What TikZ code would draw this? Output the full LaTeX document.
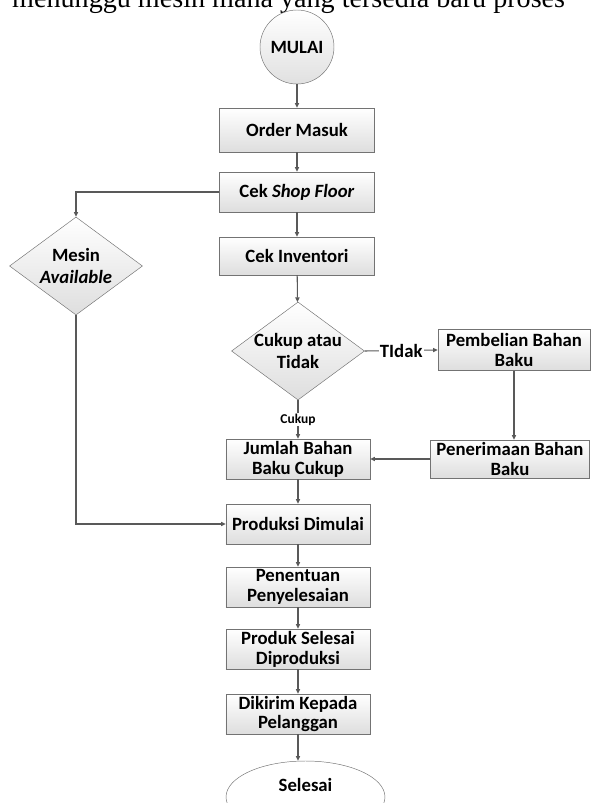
\documentclass[tikz,border=0pt]{standalone}
\usepackage{fontspec}
\setmainfont{Carlito}
\newfontfamily\bodyserif{Liberation Serif}
\usetikzlibrary{arrows.meta,shapes.geometric}

\tikzset{
  box/.style={draw=black!55, top color=white, bottom color=black!13, align=center,
    font=\bfseries\fontsize{16}{17}\selectfont, inner sep=1pt,
    minimum width=4.32cm, minimum height=1.2cm},
  decide/.style={diamond, draw=black!55, top color=white, bottom color=black!13, align=center,
    font=\bfseries\fontsize{16}{19}\selectfont, inner sep=0pt,
    minimum width=3.99cm, minimum height=2.94cm},
  flow/.style={draw=black!65, line width=0.9pt, -{Triangle[length=4pt,width=3.5pt]}},
  tag/.style={fill=white, inner sep=1pt, font=\bfseries\fontsize{16}{17}\selectfont}
}

\begin{document}
\begin{tikzpicture}[x=0.03cm, y=-0.03cm]
\useasboundingbox (0,0) rectangle (591,803);
\clip (0,0) rectangle (591,803);

% text of the page above the chart
\node[anchor=base west, inner sep=0, font=\bodyserif\fontsize{24}{24}\selectfont] (intro) at (12,7) {menunggu mesin mana yang tersedia baru proses};

% main column
\node[circle, draw=black!55, top color=white, bottom color=black!12, minimum size=2.22cm, inner sep=0,
  font=\bfseries\fontsize{16}{17}\selectfont] (mulai) at (297,47) {MULAI};
\node[box, minimum width=4.65cm, minimum height=1.32cm] (order) at (297,130) {Order Masuk};
\node[box, minimum width=4.65cm] (shop) at (297,192) {Cek \textit{Shop Floor}};
\node[box, minimum width=4.65cm, minimum height=1.14cm] (inv) at (297,256) {Cek Inventori};
\node[decide] (cukup) at (298,351) {\makebox[0pt]{Cukup atau}\\\makebox[0pt]{Tidak}};
\node[box] (jumlah) at (298,459) {Jumlah Bahan\\Baku Cukup};
\node[box] (prod) at (298,524) {Produksi Dimulai};
\node[box] (tentu) at (298,587) {Penentuan\\Penyelesaian};
\node[box] (jadi) at (298,649) {Produk Selesai\\Diproduksi};
\node[box] (kirim) at (298,714) {Dikirim Kepada\\Pelanggan};
\node[ellipse, draw=black!55, fill=white, minimum width=4.77cm, minimum height=2.16cm, inner sep=0,
  text depth=20pt, font=\bfseries\fontsize{16}{17}\selectfont] (selesai) at (305.5,797) {Selesai};

% side branches
\node[decide] (mesin) at (76,266) {\makebox[0pt]{Mesin}\\\makebox[0pt]{\textit{Available}}};
\node[box, minimum width=4.56cm, minimum height=1.23cm] (beli) at (514,350) {Pembelian Bahan\\Baku};
\node[box, minimum width=4.77cm, minimum height=1.14cm] (terima) at (510,459) {Penerimaan Bahan\\Baku};

% connectors
\draw[flow] (mulai) -- (order);
\draw[flow] (order) -- (shop);
\draw[flow] (shop) -- (inv);
\draw[flow] (shop.west) -| (mesin.north);
\draw[flow] (inv) -- (cukup);
\draw[flow] (cukup.east) -- node[tag] {TIdak} (beli.west);
\draw[flow] (cukup.south) -- node[tag, font=\bfseries\fontsize{11.5}{13}\selectfont] {Cukup} (jumlah.north);
\draw[flow] (beli.south) -- (beli.south |- terima.north);
\draw[flow] (terima) -- (jumlah);
\draw[flow] (jumlah) -- (prod);
\draw[flow] (mesin.south) |- (prod.west);
\draw[flow] (prod) -- (tentu);
\draw[flow] (tentu) -- (jadi);
\draw[flow] (jadi) -- (kirim);
\draw[flow] (kirim.south) -- (kirim.south |- selesai.north);
\end{tikzpicture}
\end{document}
